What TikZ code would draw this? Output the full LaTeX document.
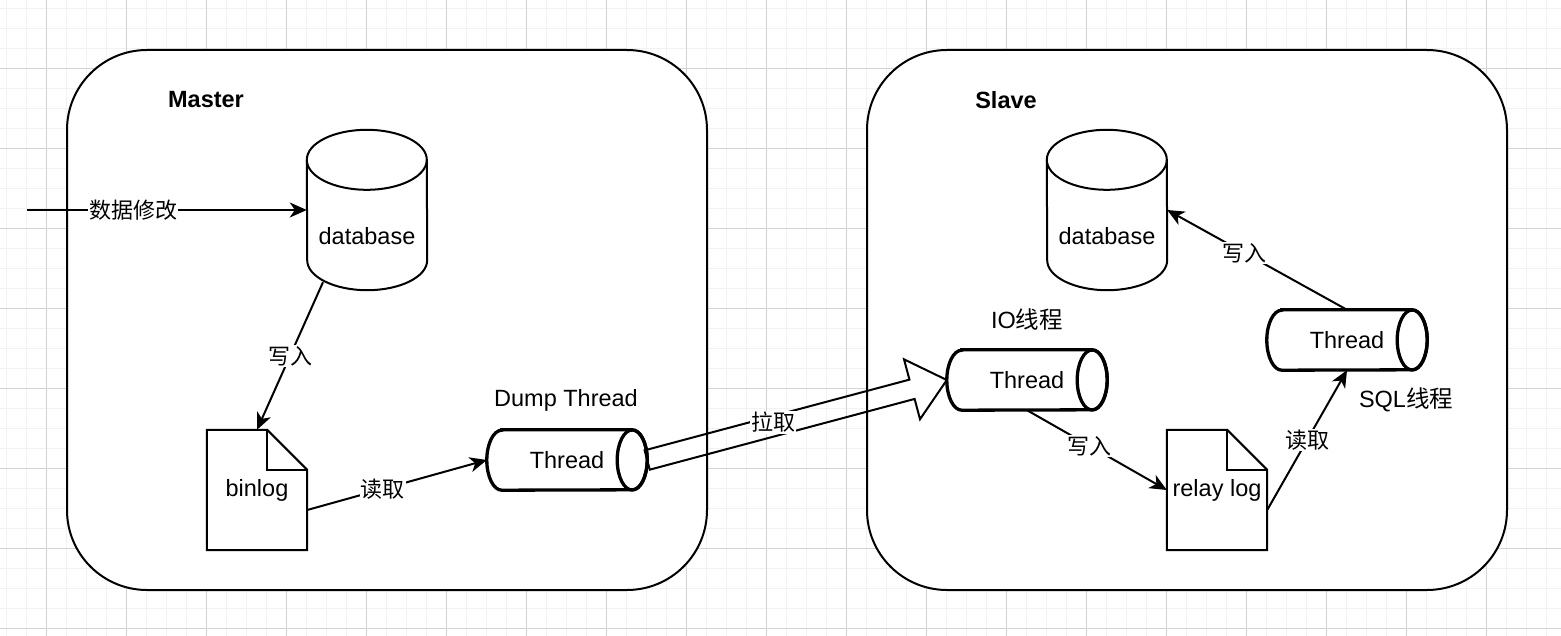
\documentclass[tikz,border=0pt]{standalone}
\usepackage{fontspec}
\setmainfont{Liberation Sans}
\newfontfamily\cjk{Noto Sans CJK SC}
\usetikzlibrary{arrows.meta,calc}

\tikzset{
	gridminor/.style={line width=1.5pt, color={rgb,255:red,242;green,242;blue,242}},
	gridmajor/.style={line width=1pt, color={rgb,255:red,210;green,210;blue,210}},
	box/.style={draw, line width=2pt, rounded corners=80pt, fill=white},
	title/.style={font=\fontsize{23.5}{28}\selectfont\bfseries},
	txt/.style={font=\fontsize{23.5}{28}\selectfont},
	elabel/.style={font=\fontsize{22}{26}\selectfont\cjk, fill=white, inner sep=1pt},
	thread/.style={txt, minimum width=160pt, minimum height=60pt, inner sep=0pt},
	db/.style={minimum width=120pt, minimum height=160pt, inner sep=0pt},
	doc/.style={txt, minimum width=100pt, minimum height=120pt, inner sep=0pt},
	link/.style={line width=2pt, -{Stealth[length=17pt,width=15pt,inset=5pt]}},
}

\begin{document}
\begin{tikzpicture}[x=1pt, y=-1pt]
		\useasboundingbox (0,0) rectangle (1561,636);
		% grid
		\begin{scope}
			\clip (0,0) rectangle (1561,636);
			\draw[gridminor, step=20pt, shift={(6.7,8.3)}] (-20,-20) grid (1580,660);
			\draw[gridmajor, step=80pt, shift={(46.7,68.3)}] (-80,-80) grid (1600,720);
		\end{scope}
		
		\draw[box] (67,50) rectangle (707,590);
		\draw[box] (867,50) rectangle (1507,590);
		\node[title] (mtitle) at (206,100) {Master};
		\node[title] (stitle) at (1006,100) {Slave};
		
		% Master
		\node[db, label={[txt, yshift=-26pt]center:database}] (mdb) at (367,210) {};
		\node[doc] (binlog) at (257,490) {binlog};
		\node[thread] (dump) at (567,460) {Thread};
		\node[txt] (dumpname) at (566,400) {Dump Thread};
		
		% Slave
		\node[db, label={[txt, yshift=-26pt]center:database}] (sdb) at (1107,210) {};
		\node[thread] (io) at (1027,380) {Thread};
		\node[txt] (ioname) at (1027,320) {IO{\cjk 线程}};
		\node[doc] (relay) at (1217,490) {relay log};
		\node[thread] (sql) at (1347,340) {Thread};
		\node[txt] (sqlname) at (1406,400) {SQL{\cjk 线程}};
		
		\foreach \n in {mdb,sdb}{
			\draw[line width=2pt] ([yshift=-30pt]\n.north west) arc[start angle=180, end angle=0, x radius=60pt, y radius=30pt]
				-- ([yshift=30pt]\n.south east) arc[start angle=0, end angle=-180, x radius=60pt, y radius=30pt] -- cycle;
			\draw[line width=2pt] ([yshift=-30pt]\n.north west) arc[start angle=180, end angle=360, x radius=60pt, y radius=30pt];
		}
		\foreach \n in {binlog,relay}{
			\draw[line width=2pt] (\n.north west) -- ([xshift=-40pt]\n.north east) -- ([yshift=-40pt]\n.north east)
				-- (\n.south east) -- (\n.south west) -- cycle;
			\draw[line width=2pt] ([xshift=-40pt]\n.north east) |- ([yshift=-40pt]\n.north east);
		}
		\foreach \n in {dump,io,sql}{
			\draw[line width=3.3pt] ([xshift=15pt]\n.north west) -- ([xshift=-15pt]\n.north east)
				arc[start angle=90, end angle=-90, x radius=15pt, y radius=30pt]
				-- ([xshift=15pt]\n.south west)
				arc[start angle=270, end angle=90, x radius=15pt, y radius=30pt] -- cycle;
			\draw[line width=3.3pt] ([xshift=-15pt]\n.east) ellipse[x radius=15pt, y radius=30pt];
		}
		
		% connectors
		\coordinate (src) at (27,210);
		\draw[link] (src) -- (mdb.west) node[elabel, pos=0.38] {数据修改};
		\draw[link] ([xshift=-44pt,yshift=8pt]mdb.south) -- (binlog.north) node[elabel, midway] {写入};
		\draw[link] ([yshift=-20pt]binlog.east) -- (dump.west) node[elabel, pos=0.42] {读取};
		\draw[link] (io.south) -- (relay.west) node[elabel, pos=0.45] {写入};
		\draw[link] ([yshift=-20pt]relay.east) -- (sql.south) node[elabel, midway] {读取};
		\draw[link] (sql.north) -- (sdb.east) node[elabel, pos=0.57] {写入};
		
		% pull arrow
		\draw[line width=2pt]
			($(dump.east)!10pt!90:(io.west)$) -- ($(io.west)!36pt!(dump.east)!10pt!-90:(dump.east)$)
			-- ($(io.west)!36pt!(dump.east)!31pt!-90:(dump.east)$) -- (io.west)
			-- ($(io.west)!36pt!(dump.east)!31pt!90:(dump.east)$) -- ($(io.west)!36pt!(dump.east)!10pt!90:(dump.east)$)
			-- ($(dump.east)!10pt!-90:(io.west)$) -- cycle;
		\path (dump.east) -- (io.west) node[elabel, pos=0.42, yshift=4pt] {拉取};
		
\end{tikzpicture}
\end{document}
